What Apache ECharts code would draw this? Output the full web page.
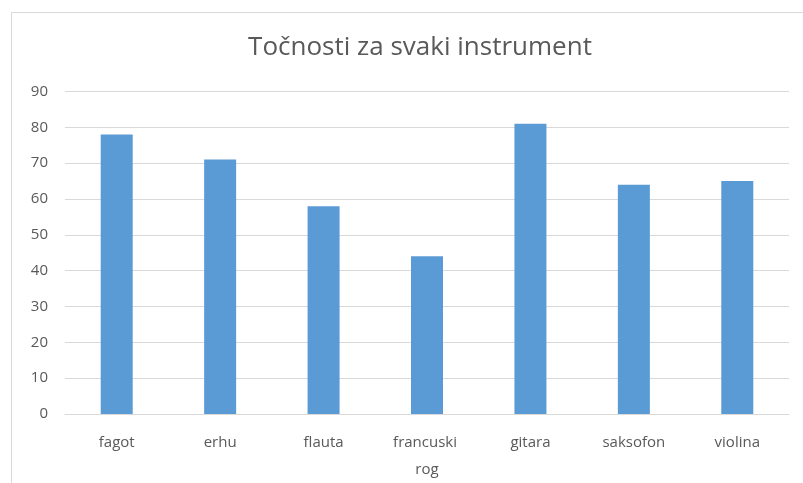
<!DOCTYPE html>
<html>
<head>
	<meta charset="UTF-8">
	<script type="text/javascript" src="https://cdn.jsdelivr.net/npm/echarts@6/dist/echarts.min.js"></script>
	<title></title>
	<style type="text/css">
		html, body{
			margin:0;
			padding:0;
			background:#fff;
			overflow:hidden;
		}
		.okvir{
			position:absolute;
			left:11px;
			top:12px;
			width:820px;
			height:500px;
			border:1px solid #d9d9d9;
		}
		#chart_box{
			position:absolute;
			left:0;
			top:0;
			width:803px;
			height:483px;
		}
	</style>
</head>
<body>
<div class="okvir"></div>
<div id="chart_box"></div>
<script type="text/javascript">
// podaci
var kategorije = ['fagot', 'erhu', 'flauta', 'francuski rog', 'gitara', 'saksofon', 'violina'];
var tocnosti = [78, 71, 58, 44, 81, 64, 65];
var naslov = 'Točnosti za svaki instrument';

var chart_box = echarts.init(document.getElementById('chart_box'));
var option = {
	animation: false,
	title: {
		text: naslov,
		left: 415,
		textAlign: 'center',
		top: 30,
		textStyle: {
			fontFamily: 'Open Sans',
			fontSize: 26,
			fontWeight: 'normal',
			color: '#595959'
		}
	},
	grid: {
		left: 65,
		right: 14,
		top: 91.5,
		bottom: 68,
		containLabel: false
	},
	xAxis: {
		type: 'category',
		data: kategorije,
		axisTick: {show: false},
		axisLine: {lineStyle: {color: '#d9d9d9', width: 1}},
		axisLabel: {
			color: '#595959',
			fontFamily: 'Open Sans',
			fontSize: 15,
			margin: 15,
			lineHeight: 27,
			width: 80,
			overflow: 'break',
			interval: 0
		}
	},
	yAxis: {
		type: 'value',
		min: 0,
		max: 90,
		interval: 10,
		axisLine: {show: false},
		axisTick: {show: false},
		splitLine: {lineStyle: {color: '#d9d9d9', width: 1}},
		axisLabel: {
			color: '#595959',
			fontFamily: 'Open Sans',
			fontSize: 15,
			margin: 17
		}
	},
	series: [{
		type: 'bar',
		data: tocnosti,
		barWidth: 32,
		itemStyle: {color: '#5b9bd5'}
	}]
};
chart_box.setOption(option);
</script>
</body>
</html>
